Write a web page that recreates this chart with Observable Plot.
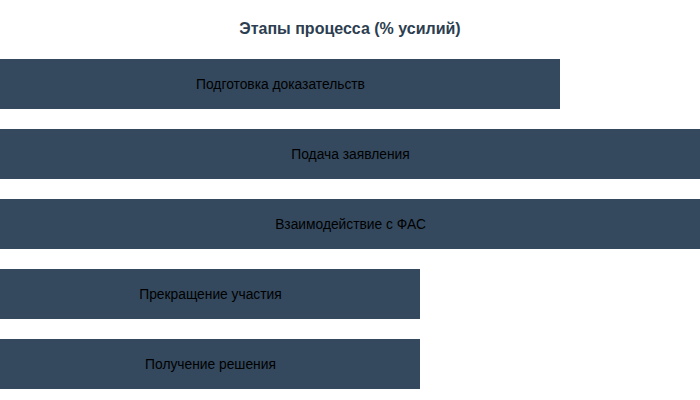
<!DOCTYPE html>
<html>
<head>
<meta charset="utf-8">
<script src="https://cdn.jsdelivr.net/npm/d3@7"></script>
<script src="https://cdn.jsdelivr.net/npm/@observablehq/plot@0.6"></script>
<style>
  html, body { margin: 0; padding: 0; background: #fff; }
  #title {
    width: 700px; height: 49px; box-sizing: border-box; padding-top: 19px;
    text-align: center; font-family: "Liberation Sans", Arial, sans-serif;
    font-weight: bold; font-size: 16px; color: #2c3e50; line-height: 20px;
  }
  #chart svg { display: block; }
</style>
</head>
<body>
<div id="title">Этапы процесса (% усилий)</div>
<div id="chart"></div>
<script>
const stages = ["Подготовка доказательств", "Подача заявления", "Взаимодействие с ФАС", "Прекращение участия", "Получение решения"];
const effort = [20, 25, 25, 15, 15];

const data = stages.map((s, i) => ({stage: s, value: effort[i]}));

const chart = Plot.plot({
  width: 700,
  height: 351,
  marginTop: 0,
  marginBottom: 1,
  marginLeft: 0,
  marginRight: 0,
  style: {fontFamily: "'Liberation Sans', Arial, sans-serif", background: "white"},
  x: {domain: [0, 25], axis: null},
  y: {domain: stages, axis: null, paddingInner: 2/7, paddingOuter: 1/7},
  marks: [
    Plot.barX(data, {x: "value", y: "stage", fill: "#34495e"}),
    Plot.text(data, {x: d => d.value / 2, y: "stage", text: "stage", fill: "#000", fontSize: 13.8})
  ]
});
document.getElementById("chart").appendChild(chart);
</script>
</body>
</html>
